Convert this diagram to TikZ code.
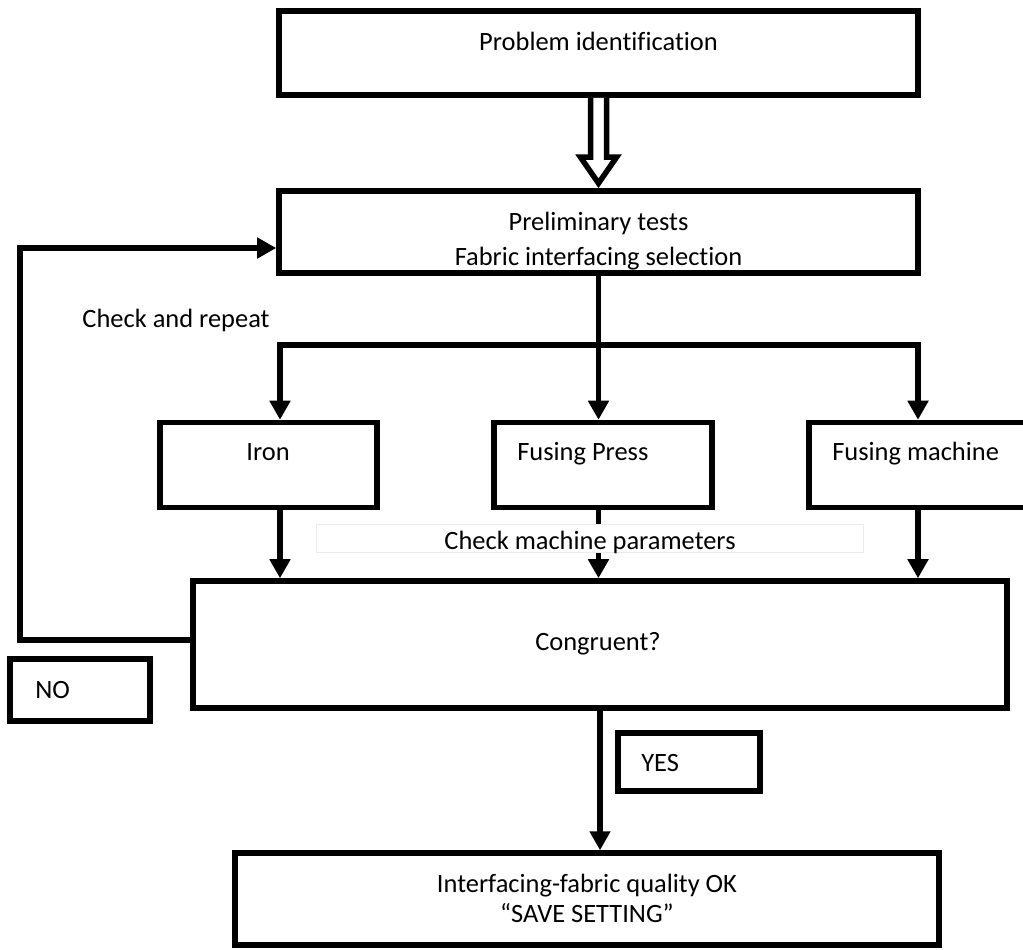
\documentclass[tikz,border=0pt]{standalone}
\usepackage{fontspec}
\setmainfont{Carlito}[Ligatures=NoCommon]
\usetikzlibrary{positioning}
\usetikzlibrary{arrows.meta, calc}

\begin{document}
\begin{tikzpicture}[x=0.025cm, y=-0.025cm]

\tikzset{every node/.style={font=\fontsize{18.8}{23}\selectfont, inner sep=0pt},
	flow box/.style 2 args={
		draw, line width=0.1375cm,
		minimum width=#1, minimum height=#2
	},
	flow text/.style={anchor=base},
	flow line/.style={line width=0.1375cm, >={Triangle[length=0.475cm, width=0.5cm]}},
	hollow arrow/.style={line width=0.1375cm, fill=white, line join=miter},
	label box/.style={draw=black!8, line width=0.025cm, fill=white,
		minimum width=13.65cm, minimum height=0.7cm}
}
\clip (0,0) rectangle (1023,949);

\node[flow text] (probtxt) at (598.5,50) {Problem identification};
\node[flow box={15.975cm}{2.1cm}] (prob) at (598.5,53) {};

\node[flow text] (prelimtxt) at (598.5,230) {Preliminary tests};
\node[flow text] (selecttxt) at (598.5,265) {Fabric interfacing selection};
\node[flow box={15.975cm}{2.05cm}] (prelim) at (598.5,232) {};

\node[flow box={5.425cm}{2.125cm}] (iron) at (268.5,465) {};
\node[flow text] (irontxt) at (268,460) {Iron};
\node[flow box={5.45cm}{2.125cm}] (press) at (603,465) {};
\node[flow text, anchor=base west] (presstxt) at (517,460) {Fusing Press};
\node[flow box={5.425cm}{2.125cm}] (machine) at (917.5,465) {};
\node[flow text, anchor=base west] (machinetxt) at (832,460) {Fusing machine};

\node[flow box={20.35cm}{3.175cm}] (congr) at (600,644.5) {};
\node[flow text] (congrtxt) at (598,650) {Congruent?};

\node[flow box={3.5cm}{1.55cm}] (no) at (80,690) {};
\node[flow text, anchor=base west] (notxt) at (35,698) {NO};
\node[flow box={3.55cm}{1.45cm}] (yes) at (689,762) {};
\node[flow text, anchor=base west] (yestxt) at (641,771) {YES};

\node[flow box={17.6cm}{2.3cm}] (final) at (587,899) {};
\node[flow text] (finaltxt) at (587,892) {Interfacing-fabric quality OK};
\node[flow text] (savetxt) at (587,922) {“SAVE SETTING”};

\node[flow text] (repeattxt) at (176,327) {Check and repeat};

\coordinate (sl) at (280,345);
\coordinate (sr) at (918,345);
\coordinate (loopbot) at (20,640);
\coordinate (looptop) at (20,248);

\draw[hollow arrow] ($(prob.south)+(-8,0)$) -- ($(prelim.north)+(-8,-31)$)
	-- ($(prelim.north)+(-18,-31)$) -- ($(prelim.north)+(0,-5)$)
	-- ($(prelim.north)+(18,-31)$) -- ($(prelim.north)+(8,-31)$)
	-- ($(prob.south)+(8,0)$);

\draw[flow line, ->] (prelim.south) -- (prelim.south |- press.north);
\draw[flow line, <->] (sl |- iron.north) -- (sl) -- (sr) -- (sr |- machine.north);

\draw[flow line, ->] (sl |- iron.south) -- (sl |- congr.north);
\draw[flow line, ->] (prelim.south |- press.south) -- (prelim.south |- congr.north);
\draw[flow line, ->] (sr |- machine.south) -- (sr |- congr.north);

\node[label box] (checkbox) at (590,538.5) {};
\node[flow text] (checktxt) at (590,549) {Check machine parameters};

\draw[flow line, ->] (congr.west |- loopbot) -- (loopbot) -- (looptop) -- (prelim.west |- looptop);
\draw[flow line, ->] (congr.south) -- (congr.south |- final.north);

\end{tikzpicture}
\end{document}
